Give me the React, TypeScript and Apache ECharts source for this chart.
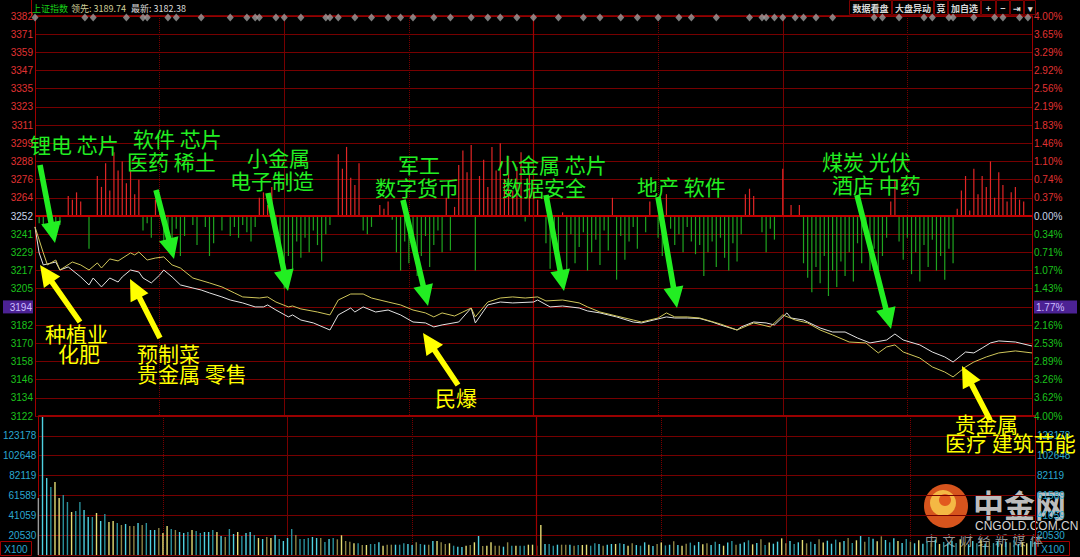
import React, { useEffect, useRef } from "react";
import * as echarts from "echarts";

// ---------------- DATA ----------------
const priceLabels = ["3122","3134","3146","3158","3170","3182","3194","3205","3217","3229","3241","3252","3264","3276","3288","3299","3311","3323","3335","3347","3359","3371","3382"];
const pctLabels = ["4.00%","3.62%","3.26%","2.89%","2.53%","2.16%","1.77%","1.43%","1.07%","0.71%","0.34%","0.00%","0.37%","0.74%","1.10%","1.46%","1.83%","2.19%","2.56%","2.92%","3.29%","3.65%","4.00%"];
const volLabels = ["","20530","41059","61589","82119","102648","123178",""];

const PRICE_MIN = 3122;
const PRICE_MAX = 3382;
const VOL_MAX = 143708;

// white line (index) [minute, price]
const whiteLine = [[0,3244.9],[1,3228.0],[2,3220.2],[5,3222.1],[6,3216.9],[8,3218.9],[11,3212.4],[13,3207.2],[14,3211.7],[16,3205.9],[18,3211.7],[20,3209.1],[21,3212.4],[23,3216.9],[25,3215.6],[26,3211.7],[28,3208.5],[30,3213.6],[31,3216.9],[33,3212.4],[35,3207.2],[38,3205.2],[40,3203.9],[42,3202.0],[45,3199.4],[47,3197.4],[50,3195.5],[53,3192.9],[55,3192.9],[56,3194.2],[58,3190.9],[61,3186.4],[62,3187.7],[64,3184.4],[67,3182.5],[71,3177.9],[73,3187.7],[76,3192.2],[77,3189.6],[79,3192.9],[82,3189.6],[85,3190.9],[88,3187.7],[91,3183.1],[94,3182.5],[96,3179.9],[98,3181.2],[102,3183.1],[105,3192.2],[106,3182.5],[109,3194.2],[112,3196.1],[115,3195.5],[120,3196.1],[121,3197.4],[124,3192.9],[127,3193.5],[131,3192.2],[133,3190.3],[136,3189.0],[140,3186.4],[144,3183.1],[146,3182.5],[150,3185.1],[152,3186.4],[154,3185.7],[157,3185.7],[160,3185.4],[163,3183.1],[165,3181.2],[169,3177.9],[170,3179.9],[173,3183.1],[176,3182.5],[178,3181.2],[181,3189.0],[182,3185.7],[185,3184.4],[189,3179.2],[192,3176.6],[195,3176.6],[198,3172.7],[201,3169.5],[205,3171.4],[207,3175.3],[209,3171.4],[213,3168.2],[216,3163.6],[219,3160.4],[221,3157.1],[224,3163.6],[226,3163.0],[228,3166.2],[230,3169.5],[232,3170.8],[236,3170.1],[240,3167.5]];

// yellow line (average) [minute, price]
const yellowLine = [[0,3244.9],[2,3228.0],[3,3220.2],[5,3223.4],[6,3216.9],[9,3222.1],[11,3220.2],[13,3216.9],[15,3221.5],[16,3218.2],[18,3224.1],[20,3222.8],[23,3228.0],[24,3226.7],[25,3228.6],[27,3223.4],[29,3224.7],[31,3225.4],[33,3220.2],[35,3218.2],[38,3211.7],[42,3208.5],[45,3205.9],[48,3202.0],[50,3199.4],[54,3198.7],[56,3199.4],[58,3196.1],[61,3192.9],[62,3193.5],[64,3191.6],[68,3189.6],[71,3187.7],[73,3197.4],[76,3201.3],[79,3201.3],[81,3198.7],[85,3196.1],[88,3194.2],[91,3190.9],[94,3189.0],[96,3186.4],[98,3189.0],[101,3187.0],[103,3189.6],[105,3192.2],[106,3186.4],[109,3196.1],[112,3198.7],[115,3199.4],[118,3198.7],[121,3199.4],[123,3196.8],[127,3197.4],[131,3195.5],[133,3192.9],[136,3189.6],[140,3187.0],[144,3184.4],[146,3183.1],[150,3185.7],[152,3189.0],[154,3186.4],[157,3186.4],[160,3185.7],[165,3181.8],[169,3177.9],[173,3182.5],[177,3179.9],[180,3187.7],[183,3184.4],[186,3182.5],[189,3177.9],[192,3174.7],[196,3170.1],[200,3169.5],[203,3163.0],[205,3166.9],[207,3168.2],[209,3163.6],[213,3159.7],[216,3153.9],[219,3150.6],[221,3147.4],[224,3153.9],[226,3157.1],[229,3160.4],[232,3163.0],[236,3164.3],[240,3163.0]];

// red/green breadth bars per minute (grid-row units, + up / - down)
const breadth = [
  0,-0.4,-0.6,0.2,-0.8,-1.0,-0.5,0,1.1,0.9,
  1.3,0.8,0,-1.8,0,2.2,1.6,2.9,1.4,3.5,
  2.5,3.0,1.8,2.6,1.2,2.0,-0.8,-0.4,-1.2,0.9,
  0.6,-1.4,-0.9,-1.9,-0.7,-2.2,-1.1,0,-0.5,-1.6,
  0,-0.6,-2.2,-1.5,0,-0.8,0,-1.1,-0.6,-1.2,
  -0.5,-0.9,-1.4,-0.6,1.0,1.3,0.6,1.6,-1.0,-2.6,
  -4.0,-2.2,-3.0,-1.4,-2.3,-1.2,-2.0,-0.8,-1.6,-2.5,
  -1.0,-0.5,0,3.4,2.6,3.8,2.1,1.7,2.9,-0.8,
  -1.0,-0.6,0,0.6,0.4,0.8,-0.2,-2.0,-3.0,-1.4,
  -2.6,-1.8,-3.3,-2.2,-1.1,-2.8,-1.6,-0.8,-2.0,1.0,
  -1.9,0.5,2.8,3.6,2.4,3.9,-3.0,2.2,3.1,1.6,
  3.8,2.5,4.0,2.0,3.3,1.4,2.7,3.5,-0.3,2.3,
  1.8,0.9,0,-1.5,-2.9,-1.2,-2.2,0.2,-3.4,-1.0,
  -2.6,-1.7,-0.9,-3.0,-2.0,-1.3,-2.7,-0.8,-1.9,1.0,
  -3.5,-1.1,-2.4,-1.4,-0.6,-1.8,0,-0.9,0.8,0,
  -1.2,-2.2,1.2,-0.7,-1.6,-1.0,-2.0,-0.6,-1.4,-2.1,
  -1.6,-3.3,-2.0,-1.4,-2.8,-1.2,-2.3,-3.0,-1.5,-2.5,
  -1.0,1.2,1.5,1.1,0,-0.9,-2.0,-0.7,-1.3,0,
  2.6,0,0.6,0,0.6,-2.6,-3.4,-4.2,-2.8,-3.7,
  -2.2,-4.4,-3.0,-3.9,-2.5,-3.3,-2.0,-3.6,-1.5,-2.6,
  -1.0,-3.0,-1.8,-3.6,-2.2,-1.2,0.8,2.0,-1.4,-2.4,
  -1.2,-3.2,-2.0,-3.6,-1.6,-2.8,-1.3,-3.0,-2.2,-3.5,
  -1.8,-2.6,0.4,1.4,2.2,0.3,2.6,1.2,2.2,1.6,
  3.0,1.0,2.4,1.7,0.8,1.3,1.6,0.9,0.8,0,
  0
];

// volume per minute (x100)
const volume = [
  58930,142680,79610,70300,75470,58930,62030,54800,44460,45490,
  54800,46530,39290,39290,43420,35150,42390,34120,35150,33080,
  31020,32050,29980,29980,33080,31020,33080,25850,25850,27920,
  22750,29980,26880,25850,23780,22750,23780,25850,24810,22750,
  23780,23780,25850,23780,19640,18610,26880,21710,23780,19640,
  22750,23780,20680,17580,16540,18610,17580,20680,16540,14470,
  17580,26880,20680,16540,16540,17580,18610,17580,17580,13440,
  16540,17580,16230,20370,14470,13750,12100,12100,10340,10340,
  11370,11370,13130,9620,10650,10650,10650,10650,12100,11370,
  10340,13130,11370,10650,10650,14470,14470,13130,11370,12100,
  9620,8580,8270,9620,10340,13130,19640,9310,9620,13130,
  9620,9620,8580,13130,9620,9620,9620,9620,10650,10650,
  9620,31020,11370,11370,9620,10650,10650,10650,10650,9620,
  10340,10340,10650,9620,12100,11370,9620,10650,11370,11370,
  12100,11400,9600,12100,10300,9600,13100,10600,9300,11400,
  12800,9900,10600,14200,10300,9600,11700,12800,10000,13500,
  11000,12100,10300,13800,11400,9600,12800,14500,10600,11700,
  13100,15200,11000,12400,16200,10300,12800,11700,13800,17200,
  12100,14500,11400,13100,15500,12100,13800,11400,16200,12800,
  14800,11700,15900,13100,14500,17600,12400,15200,19600,13800,
  18600,16900,14100,19300,15500,13100,17200,14500,12400,16500,
  13800,12100,15200,11700,14100,12800,15900,11400,13500,12100,
  14800,12400,16200,13100,11000,14500,12100,15200,11700,13800,
  12400,14100,11000,13500,12800,15200,11400,13100,12100,14500,
  13800
];

// volume bar colour codes per minute: g grey, c cyan, t teal, y yellow, o olive
const volColors = (
  "gcctyyttyt" + "tcctyctyyt" + "ocoocotcco" + "yytocctytt" + "cctycotcyt" +
  "cctycoyctc" + "ctotttccot" + "ctoyooytoy" + "ttcyoocttc" + "cotcocyooy" +
  "tccyoycoyy" + "oocotyttyy" + "oycttcooco" + "tyyttcoccy" + "tcyoctcyco" +
  "ytcocyotcc" + "yoctcyctoc" + "ctycotyccy" + "octcyotcoy" + "cctycotyco" +
  "tcyoctcyct" + "ocyctocytc" + "ctyocctyco" + "tcycotcyyc" + "c"
).split("");

// minutes where the grey event diamonds sit along the top
const eventMinutes = [0,12,14,22,26,27,32,34,40,47,51,53,54,58,60,64,70,71,73,77,81,85,88,91,96,100,105,109,112,116,120,126,132,136,141,145,150,155,158,164,172,175,176,178,180,183,185,188,192,202,204,208,214,216,220,221,226,231,233,237,239];

// annotation labels
const greenNotes = [
  { t: "锂电 芯片", x: 30, y: 144 },
  { t: "软件 芯片", x: 133, y: 138 },
  { t: "医药 稀土", x: 127, y: 161 },
  { t: "小金属", x: 247, y: 157 },
  { t: "电子制造", x: 230, y: 180 },
  { t: "军工", x: 398, y: 164 },
  { t: "数字货币", x: 375, y: 187 },
  { t: "小金属 芯片", x: 497, y: 164 },
  { t: "数据安全", x: 502, y: 187 },
  { t: "地产 软件", x: 637, y: 186 },
  { t: "煤炭 光伏", x: 822, y: 161 },
  { t: "酒店 中药", x: 832, y: 184 },
];
const yellowNotes = [
  { t: "种植业", x: 45, y: 333 },
  { t: "化肥", x: 58, y: 353 },
  { t: "预制菜", x: 137, y: 353 },
  { t: "贵金属 零售", x: 137, y: 373 },
  { t: "民爆", x: 435, y: 397 },
  { t: "贵金属", x: 955, y: 423 },
  { t: "医疗 建筑节能", x: 945, y: 442 },
];
const greenArrows = [
  [40, 165, 55, 243],
  [156, 190, 174, 259],
  [268, 193, 288, 291],
  [403, 200, 428, 306],
  [546, 195, 564, 291],
  [658, 197, 677, 308],
  [857, 195, 891, 329],
];
const yellowArrows = [
  [80, 322, 40, 265],
  [160, 338, 130, 279],
  [458, 385, 423, 333],
  [990, 420, 962, 366],
];
const buttons = [
  { t: "数据看盘", x: 849, w: 42 },
  { t: "大盘异动", x: 892, w: 41 },
  { t: "竞", x: 934, w: 13 },
  { t: "加自选", x: 948, w: 32 },
  { t: "+", x: 981, w: 14 },
  { t: "−", x: 996, w: 13 },
  { t: "⇥", x: 1010, w: 13 },
  { t: "▾", x: 1024, w: 11 },
];

// ---------------- helpers ----------------
const CJK = "'Noto Sans CJK SC', 'Noto Sans', sans-serif";
const NUM = "'Liberation Sans', Arial, sans-serif";
const volColorMap: Record<string, string> = { g: "#9a9a9a", c: "#4fd0e0", t: "#2a8f9a", y: "#e4dc74", o: "#8c8444" };

function arrowPoints(x1: number, y1: number, x2: number, y2: number) {
  const sw = 2.8, hw = 10, hl = 21;
  const dx = x2 - x1, dy = y2 - y1;
  const L = Math.hypot(dx, dy);
  const ux = dx / L, uy = dy / L;
  const nx = -uy, ny = ux;
  const bx = x2 - ux * hl, by = y2 - uy * hl;
  return [
    [x1 + nx * sw, y1 + ny * sw],
    [bx + nx * sw, by + ny * sw],
    [bx + nx * hw, by + ny * hw],
    [x2, y2],
    [bx - nx * hw, by - ny * hw],
    [bx - nx * sw, by - ny * sw],
    [x1 - nx * sw, y1 - ny * sw],
  ];
}

export default function App() {
  const ref = useRef<HTMLDivElement>(null);
  useEffect(() => {
    document.body.style.margin = "0";
    document.body.style.background = "#000";
    const chart = echarts.init(ref.current!, undefined, { renderer: "svg" });

    const gridCol = "#760000";
    const axisCol = "#a00000";

    const graphics: any[] = [];
    // header
    graphics.push({ type: "line", shape: { x1: 31.5, y1: 0, x2: 31.5, y2: 16 }, style: { stroke: axisCol, lineWidth: 1 } });
    graphics.push({ type: "text", x: 32, y: 8, style: { text: "上证指数", fill: "#18d018", font: `9px ${CJK}`, verticalAlign: "middle" } });
    graphics.push({ type: "text", x: 71, y: 8, style: { text: "领先: 3189.74", fill: "#cfcf9a", font: `9px ${CJK}`, verticalAlign: "middle" } });
    graphics.push({ type: "text", x: 131, y: 8, style: { text: "最新: 3182.38", fill: "#dcdcdc", font: `9px ${CJK}`, verticalAlign: "middle" } });
    buttons.forEach((b) => {
      graphics.push({ type: "rect", shape: { x: b.x + 0.5, y: 0.5, width: b.w, height: 14 }, style: { fill: "#000", stroke: "#7a0000", lineWidth: 1 } });
      graphics.push({ type: "text", x: b.x + b.w / 2 + 0.5, y: 8, style: { text: b.t, fill: "#d8d8d8", font: `bold 9px ${CJK}`, align: "center", verticalAlign: "middle" } });
    });
    // X100 boxes
    [[0, 31], [1036, 33]].forEach(([x, w]) => {
      graphics.push({ type: "rect", shape: { x: x + 0.5, y: 541.5, width: w, height: 14 }, style: { fill: "#000", stroke: axisCol, lineWidth: 1 } });
      graphics.push({ type: "text", x: x + w / 2 + 0.5, y: 549, style: { text: "X100", fill: "#2aa8d0", font: `10px ${NUM}`, align: "center", verticalAlign: "middle" } });
    });
    // watermark
    graphics.push({ type: "circle", shape: { cx: 946, cy: 506, r: 22 }, style: { fill: "#e2591f", opacity: 0.95 } });
    graphics.push({ type: "circle", shape: { cx: 943, cy: 503, r: 13 }, style: { fill: "#f4b844" } });
    graphics.push({ type: "circle", shape: { cx: 945, cy: 500, r: 6 }, style: { fill: "#e2591f" } });
    graphics.push({ type: "text", x: 973, y: 503, style: { text: "中金网", fill: "rgba(215,215,215,0.9)", font: `bold 31px ${CJK}`, verticalAlign: "middle" } });
    graphics.push({ type: "text", x: 975, y: 526, style: { text: "CNGOLD.COM.CN", fill: "#d4d4d4", font: `12px ${NUM}`, verticalAlign: "middle" } });
    "中文财经新媒体".split("").forEach((ch, k) => {
      graphics.push({ type: "text", x: 925 + k * 17.5, y: 539, style: { text: ch, fill: "rgba(190,190,190,0.8)", font: `13px ${CJK}`, verticalAlign: "middle" } });
    });
    // annotations
    greenNotes.forEach((n) => graphics.push({ type: "text", x: n.x, y: n.y, z: 50, style: { text: n.t, fill: "#22ee22", font: `21px ${CJK}`, verticalAlign: "middle" } }));
    yellowNotes.forEach((n) => graphics.push({ type: "text", x: n.x, y: n.y, z: 50, style: { text: n.t, fill: "#ffff00", font: `21px ${CJK}`, verticalAlign: "middle" } }));
    greenArrows.forEach((a) => graphics.push({ type: "polygon", z: 50, shape: { points: arrowPoints(a[0], a[1], a[2], a[3]) }, style: { fill: "#22ee22" } }));
    yellowArrows.forEach((a) => graphics.push({ type: "polygon", z: 50, shape: { points: arrowPoints(a[0], a[1], a[2], a[3]) }, style: { fill: "#ffff00" } }));

    const hiddenX = { axisLine: { show: false }, axisTick: { show: false }, axisLabel: { show: false } };

    const option: any = {
      animation: false,
      backgroundColor: "#000",
      grid: [
        { left: 32, right: 45, top: 16, height: 400 },
        { left: 32, right: 45, top: 416, height: 139 },
      ],
      xAxis: [
        { type: "value", gridIndex: 0, min: 0, max: 240, interval: 60, ...hiddenX, splitLine: { show: true, lineStyle: { color: gridCol, width: 1 } } },
        { type: "value", gridIndex: 0, min: 0, max: 240, interval: 30, ...hiddenX, splitLine: { show: true, lineStyle: { color: gridCol, width: 1, type: "dotted" } } },
        { type: "value", gridIndex: 1, min: 0, max: 240, interval: 60, ...hiddenX, splitLine: { show: true, lineStyle: { color: gridCol, width: 1 } } },
        { type: "value", gridIndex: 1, min: 0, max: 240, interval: 30, ...hiddenX, splitLine: { show: true, lineStyle: { color: gridCol, width: 1, type: "dotted" } } },
      ],
      yAxis: [
        { type: "value", gridIndex: 0, min: PRICE_MIN, max: PRICE_MAX, show: false },
        {
          type: "value", gridIndex: 0, min: 0, max: 22, interval: 1, position: "left",
          axisLine: { show: true, lineStyle: { color: axisCol } }, axisTick: { show: false },
          splitLine: { show: true, lineStyle: { color: gridCol } },
          axisLabel: {
            margin: 2, fontSize: 10, fontFamily: NUM,
            formatter: (v: number) => { const i = Math.round(v); const s = priceLabels[i]; return i === 6 ? `{hl|${s}}` : s; },
            color: (v: any) => { const i = Math.round(Number(v)); return i === 11 ? "#c8d4ea" : i > 11 ? "#e03232" : "#1cc21c"; },
            rich: { hl: { backgroundColor: "#4c2294", color: "#cdbdff", fontSize: 10, fontFamily: NUM, width: 28, align: "right", padding: [2, 1, 1, 1], lineHeight: 13 } },
          },
        },
        {
          type: "value", gridIndex: 0, min: 0, max: 22, interval: 1, position: "right",
          axisLine: { show: true, lineStyle: { color: axisCol } }, axisTick: { show: false }, splitLine: { show: false },
          axisLabel: {
            margin: 2, fontSize: 10, fontFamily: NUM,
            formatter: (v: number) => { const i = Math.round(v); const s = pctLabels[i]; return i === 6 ? `{hl|${s}}` : s; },
            color: (v: any) => { const i = Math.round(Number(v)); return i === 11 ? "#c8d4ea" : i > 11 ? "#e03232" : "#1cc21c"; },
            rich: { hl: { backgroundColor: "#4c2294", color: "#cdbdff", fontSize: 10, fontFamily: NUM, width: 40, align: "left", padding: [2, 1, 1, 2], lineHeight: 13 } },
          },
        },
        { type: "value", gridIndex: 0, min: -11, max: 11, show: false },
        { type: "value", gridIndex: 1, min: 0, max: VOL_MAX, show: false },
        {
          type: "value", gridIndex: 1, min: 0, max: 7, interval: 1, position: "left",
          axisLine: { show: true, lineStyle: { color: axisCol } }, axisTick: { show: false },
          splitLine: { show: true, lineStyle: { color: gridCol } },
          axisLabel: { margin: 2, fontSize: 10, fontFamily: NUM, color: "#2aa8d0", formatter: (v: number) => volLabels[Math.round(v)] },
        },
        {
          type: "value", gridIndex: 1, min: 0, max: 7, interval: 1, position: "right",
          axisLine: { show: true, lineStyle: { color: axisCol } }, axisTick: { show: false }, splitLine: { show: false },
          axisLabel: { margin: 2, fontSize: 10, fontFamily: NUM, color: "#2aa8d0", formatter: (v: number) => volLabels[Math.round(v)] },
        },
      ],
      series: [
        {
          type: "bar", name: "breadth", xAxisIndex: 0, yAxisIndex: 3, barWidth: 1.2,
          data: breadth.map((v, i) => [i, v]).filter((d) => d[1] !== 0),
          itemStyle: { color: (p: any) => (p.value[1] >= 0 ? "#e02626" : "#1fa41f") },
          markLine: {
            silent: true, symbol: "none", label: { show: false },
            data: [{ yAxis: 0, lineStyle: { color: "#c40000", width: 2, type: "solid" } }],
          },
        },
        {
          type: "line", name: "index", xAxisIndex: 0, yAxisIndex: 0, data: whiteLine, showSymbol: false,
          lineStyle: { color: "#e2e2e2", width: 1 }, z: 5,
          markLine: {
            silent: true, symbol: "none", label: { show: false },
            data: [
              { xAxis: 120, lineStyle: { color: axisCol, width: 1.2, type: "solid" } },
              { yAxis: PRICE_MAX, lineStyle: { color: axisCol, width: 1.5, type: "solid" } },
            ],
          },
        },
        {
          type: "line", name: "avg", xAxisIndex: 0, yAxisIndex: 0, data: yellowLine, showSymbol: false,
          lineStyle: { color: "#cfc65a", width: 1 }, z: 5,
        },
        {
          type: "scatter", name: "events", xAxisIndex: 0, yAxisIndex: 0, clip: false,
          data: eventMinutes.map((m) => [m, PRICE_MAX - 1]),
          symbol: "diamond", symbolSize: [7, 8], itemStyle: { color: "#9c9c9c" }, z: 6,
        },
        {
          type: "bar", name: "volume", xAxisIndex: 2, yAxisIndex: 4, barWidth: 1.4,
          data: volume.map((v, i) => [i, v]),
          itemStyle: { color: (p: any) => volColorMap[volColors[p.dataIndex]] || "#4fd0e0" },
          markLine: {
            silent: true, symbol: "none", label: { show: false },
            data: [
              { xAxis: 120, lineStyle: { color: axisCol, width: 1.2, type: "solid" } },
              { yAxis: VOL_MAX, lineStyle: { color: "#9a0000", width: 2, type: "solid" } },
            ],
          },
        },
      ],
      graphic: graphics,
    };
    chart.setOption(option);
    return () => chart.dispose();
  }, []);
  return <div ref={ref} style={{ position: "fixed", left: 0, top: 0, width: 1080, height: 557, background: "#000" }} />;
}
